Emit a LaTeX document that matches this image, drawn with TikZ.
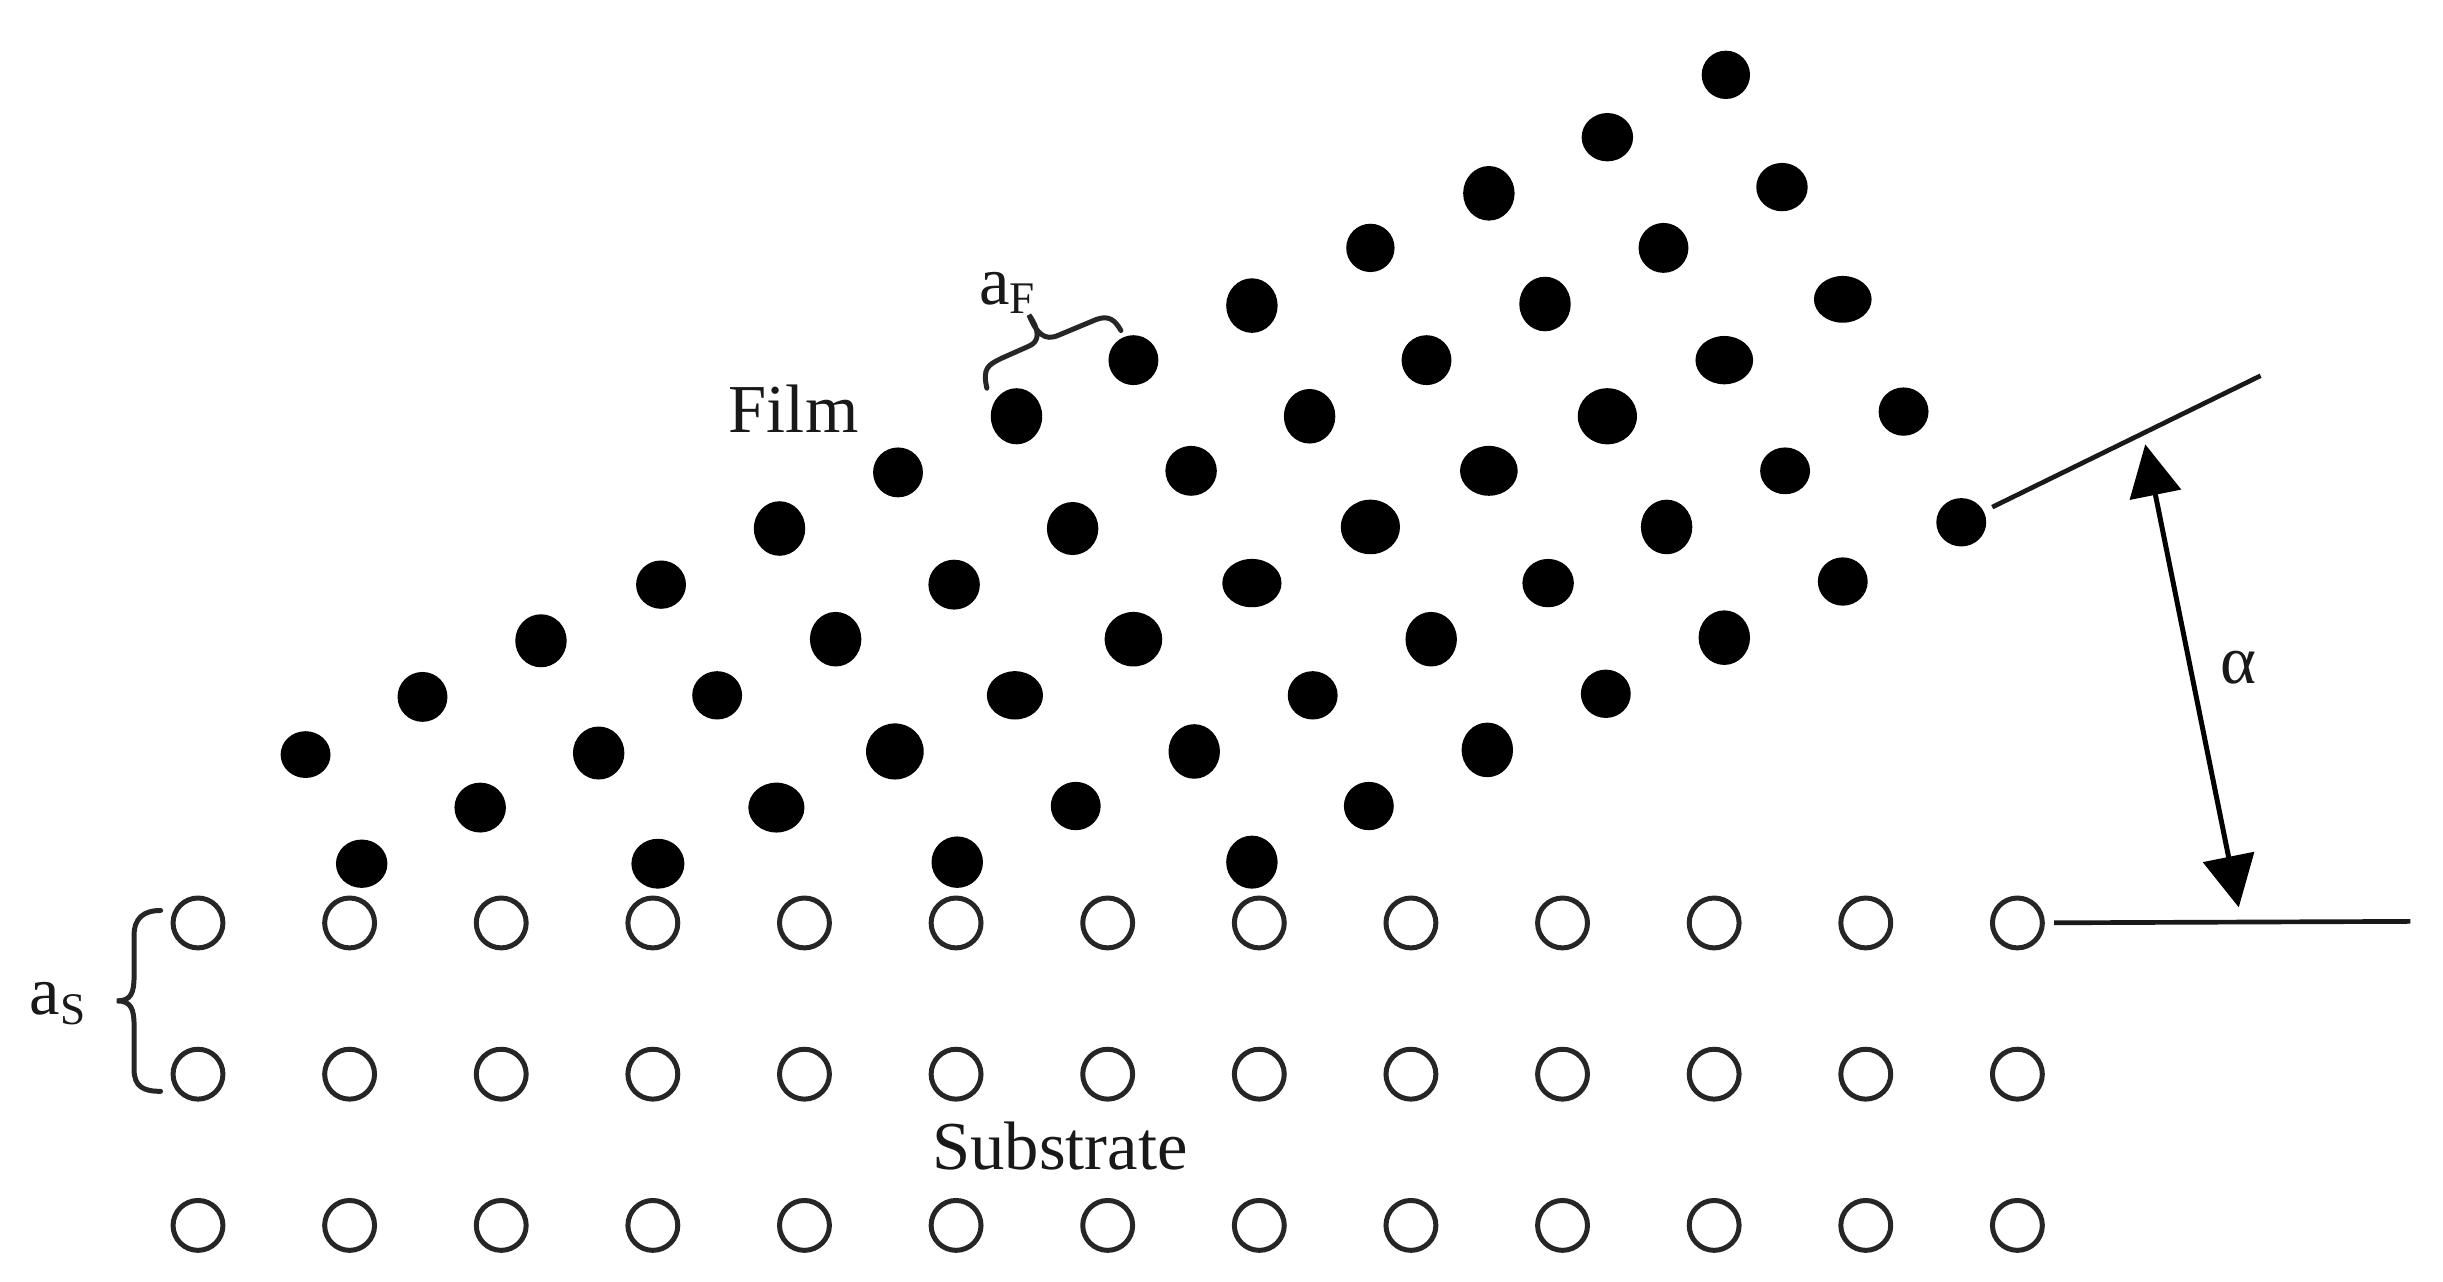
\documentclass[tikz,border=0pt]{standalone}
\usepackage{fontspec}
\setmainfont{Liberation Serif}
\usetikzlibrary{arrows.meta,shapes.geometric}
\tikzset{
  filmatom/.style={ellipse,fill=black,inner sep=0pt},
  subatom/.style={circle,draw=black!85,line width=3.2pt,fill=white,inner sep=0pt,minimum size=32pt},
  planeline/.style={line width=3pt,black!90,shorten <=6pt},
  bracket/.style={line width=3.2pt,black!85,line cap=round},
  lbl/.style={inner sep=0pt,black!90,font=\fontsize{44}{46}\selectfont}
}
\newcommand{\subfont}{\fontsize{29}{30}\selectfont}
\begin{document}
\begin{tikzpicture}[x=1pt,y=-1pt,>={Triangle[length=33pt,width=33pt]}]
    \useasboundingbox (0,0) rectangle (1567,822.3);

    % substrate atoms
    \foreach \r/\ypos in {1/592,2/689,3/786}
        \foreach \c in {0,...,12}
            \node[subatom] (s\r-\c) at (127+97.25*\c,\ypos) {};

    % film atoms
    \foreach \xpos/\ypos/\wd/\ht [count=\n] in {
        196/484/32/30, 271/447/32/32, 347/411/33/34, 424/375/32/31, 500/339/33/35, 576/303/32/32, 652/267/33/36,
        727/231/32/32, 803/196/33/35, 879/159/31/31, 955/124/33/35, 1031/88/33/31, 1107/48/31/31,
        232/554/33/31, 308/518/33/32, 384/483/33/34, 460/446/32/31, 536/410/33/35, 612/375/33/32, 688/339/33/34,
        764/302/33/32, 840/267/33/35, 915/231/32/32, 991/195/33/35, 1067/159/32/32, 1143/120/33/31,
        422/554/34/32, 498/518/36/32, 574/482/37/36, 651/446/36/31, 727/410/37/35, 803/374/38/31, 879/338/38/35,
        955/302/37/32, 1031/267/38/36, 1106/231/37/31, 1182/192/37/30,
        614/553/33/33, 690/517/32/31, 766/482/33/35, 842/446/32/31, 918/410/33/35, 993/374/33/31, 1069/338/33/35,
        1145/302/32/30, 1221/264/32/31,
        803/553/33/34, 878/517/32/31, 954/481/33/35, 1030/445/32/31, 1106/409/33/35, 1182/373/32/31, 1258/335/32/31}
        \node[filmatom,minimum width=\wd pt,minimum height=\ht pt] (f\n) at (\xpos,\ypos) {};

    % the two planes and the angle
    \coordinate (tiltend) at (1450,241);
    \coordinate (baseend) at (1546,591);
    \draw[planeline] (f53) -- (tiltend);
    \draw[planeline] (s1-12) -- (baseend);
    \coordinate (arrowtop) at (1376,285);
    \coordinate (arrowbot) at (1436,582);
    \draw[<->,line width=3.2pt] (arrowtop) -- (arrowbot);

    % brackets
    \draw[bracket] (633,249) .. controls (630,236) and (634,234) .. (642,230) -- (660,222)
        .. controls (667,219) and (667,212) .. (660,202)
        .. controls (665,214) and (670,219) .. (679,215) -- (703,205)
        .. controls (711,202) and (715,205) .. (719,212);
    \draw[bracket] (103,584) .. controls (92,584) and (86,589) .. (86,600) -- (86,626)
        .. controls (86,637) and (84,642) .. (75,642)
        .. controls (84,642) and (86,647) .. (86,658) -- (86,686)
        .. controls (86,697) and (92,700) .. (103,700);

    % labels
    \node[lbl] (film) at (509,262) {Film};
    \node[lbl] (substrate) at (680,735) {Substrate};
    \node[lbl,anchor=base west] (af) at (628,195) {a\raisebox{-6pt}{\subfont F}};
    \node[lbl,anchor=base west] (as) at (19,651) {a\raisebox{-6pt}{\subfont S}};
    \node[lbl] (alpha) at (1436,428) {α};
\end{tikzpicture}
\end{document}
